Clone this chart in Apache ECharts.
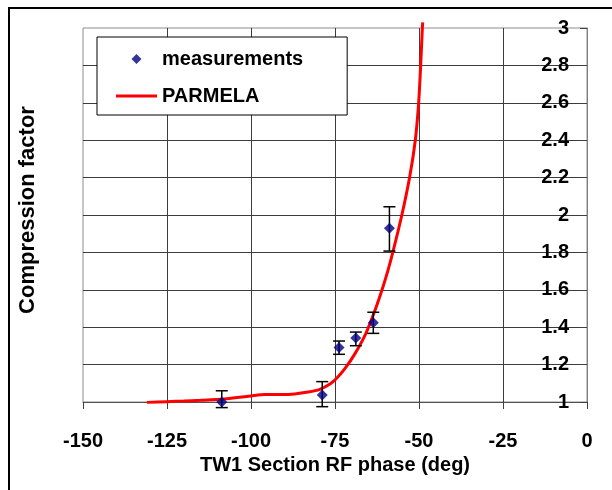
<!DOCTYPE html>
<html>
<head>
<meta charset="utf-8">
<script src="https://cdn.jsdelivr.net/npm/echarts@6/dist/echarts.min.js"></script>
<style>
  html, body { margin: 0; padding: 0; background: #fff; }
  #chart { width: 612px; height: 490px; }
</style>
</head>
<body>
<div id="chart"></div>
<script>
// Measured compression factor vs. RF phase of the first travelling-wave section
const measPhase  = [-108.7, -78.8, -73.8, -68.8, -63.6, -58.8];
const measFactor = [1.0, 1.037, 1.292, 1.342, 1.424, 1.929];
const errUp      = [0.06, 0.072, 0.034, 0.032, 0.056, 0.115];
const errDown    = [0.03, 0.062, 0.037, 0.041, 0.057, 0.122];

// PARMELA simulation curve
const simPhase  = [-131, -125, -120, -115, -108, -100, -96, -91, -87, -83, -79.5, -76.5, -74.5, -72, -69, -65.8, -62.9, -61.0, -59.3, -57.8, -55.1, -52.8, -51.1, -50.1, -49.5, -49.0, -48.9];
const simFactor = [0.998, 1.002, 1.005, 1.009, 1.016, 1.032, 1.04, 1.04, 1.043, 1.053, 1.068, 1.096, 1.127, 1.18, 1.26, 1.367, 1.5, 1.6, 1.7, 1.8, 2.0, 2.2, 2.4, 2.6, 2.8, 3.0, 3.03];

const xMin = -150, xMax = 0, xStep = 25;
const yMin = 1, yMax = 3, yStep = 0.2;

const FONT = '"Liberation Sans", Arial, sans-serif';

const measData = measPhase.map((p, i) => [p, measFactor[i]]);
const errData = measPhase.map((p, i) => [p, measFactor[i] - errDown[i], measFactor[i] + errUp[i]]);
const simData = simPhase.map((p, i) => [p, simFactor[i]]);

const chart = echarts.init(document.getElementById('chart'), null, { renderer: 'canvas' });

chart.setOption({
  animation: false,
  backgroundColor: '#fff',
  grid: {
    left: 83, right: 25, top: 28, bottom: 88,
    show: true, borderColor: '#8c8c8c', borderWidth: 1, backgroundColor: 'transparent'
  },
  legend: {
    left: 97, top: 37,
    orient: 'vertical',
    padding: [12, 44, 9, 19],
    itemGap: 17,
    itemWidth: 41,
    itemHeight: 10,
    symbolKeepAspect: true,
    backgroundColor: '#fff',
    borderColor: '#000',
    borderWidth: 1,
    selectedMode: false,
    textStyle: { fontSize: 20, fontWeight: 'bold', color: '#000', fontFamily: FONT },
    data: [
      { name: 'measurements', icon: 'path://M5,0 L10,5 L5,10 L0,5 Z', itemStyle: { color: '#000080' } },
      { name: 'PARMELA', icon: 'path://M0,0 H41 V3 H0 Z', itemStyle: { color: '#ff0000' } }
    ]
  },
  xAxis: {
    type: 'value',
    min: xMin, max: xMax, interval: xStep,
    name: 'TW1 Section RF phase (deg)',
    nameLocation: 'middle',
    nameGap: 47,
    nameTextStyle: { fontSize: 20, fontWeight: 'bold', color: '#000', fontFamily: FONT },
    axisLine: { show: true, lineStyle: { color: '#505050', width: 1 } },
    axisTick: { show: true, inside: false, length: 7, lineStyle: { color: '#404040' } },
    axisLabel: { margin: 29, fontSize: 20, fontWeight: 'bold', color: '#000', fontFamily: FONT },
    splitLine: { show: true, showMinLine: false, lineStyle: { color: '#3c3c3c', width: 1 } }
  },
  yAxis: {
    type: 'value',
    position: 'right',
    min: yMin, max: yMax, interval: yStep,
    axisLine: { show: true, onZero: false, lineStyle: { color: '#808080', width: 1 } },
    axisTick: { show: true, inside: true, length: 7, lineStyle: { color: '#404040' } },
    axisLabel: { inside: true, margin: 18, fontSize: 20, fontWeight: 'bold', color: '#000', fontFamily: FONT },
    splitLine: { show: true, showMaxLine: false, lineStyle: { color: '#3c3c3c', width: 1 } }
  },
  graphic: [
    {
      type: 'text',
      x: 28, y: 210,
      rotation: Math.PI / 2,
      style: {
        text: 'Compression factor',
        fontSize: 22, fontWeight: 'bold', fontFamily: FONT,
        fill: '#000', align: 'center', verticalAlign: 'middle'
      },
      silent: true
    },
    {
      type: 'rect',
      shape: { x: 9, y: 8, width: 800, height: 800 },
      style: { fill: 'none', stroke: '#000', lineWidth: 2 },
      silent: true,
      z: 100
    }
  ],
  series: [
    {
      name: 'PARMELA',
      type: 'line',
      data: simData,
      showSymbol: false,
      symbol: 'none',
      smooth: 0.2,
      clip: false,
      lineStyle: { color: '#ff0000', width: 3 },
      itemStyle: { color: '#ff0000' },
      z: 2
    },
    {
      name: 'error',
      type: 'custom',
      data: errData,
      z: 3,
      silent: true,
      renderItem: function (params, api) {
        const x = api.value(0);
        const lo = api.coord([x, api.value(1)]);
        const hi = api.coord([x, api.value(2)]);
        const hw = 6;
        const st = { stroke: '#000', lineWidth: 1.5 };
        return {
          type: 'group',
          children: [
            { type: 'line', shape: { x1: hi[0], y1: hi[1], x2: lo[0], y2: lo[1] }, style: st },
            { type: 'line', shape: { x1: hi[0] - hw, y1: hi[1], x2: hi[0] + hw, y2: hi[1] }, style: st },
            { type: 'line', shape: { x1: lo[0] - hw, y1: lo[1], x2: lo[0] + hw, y2: lo[1] }, style: st }
          ]
        };
      }
    },
    {
      name: 'measurements',
      type: 'scatter',
      data: measData,
      symbol: 'diamond',
      symbolSize: 11,
      itemStyle: { color: '#000080' },
      z: 4
    }
  ]
});
</script>
</body>
</html>
